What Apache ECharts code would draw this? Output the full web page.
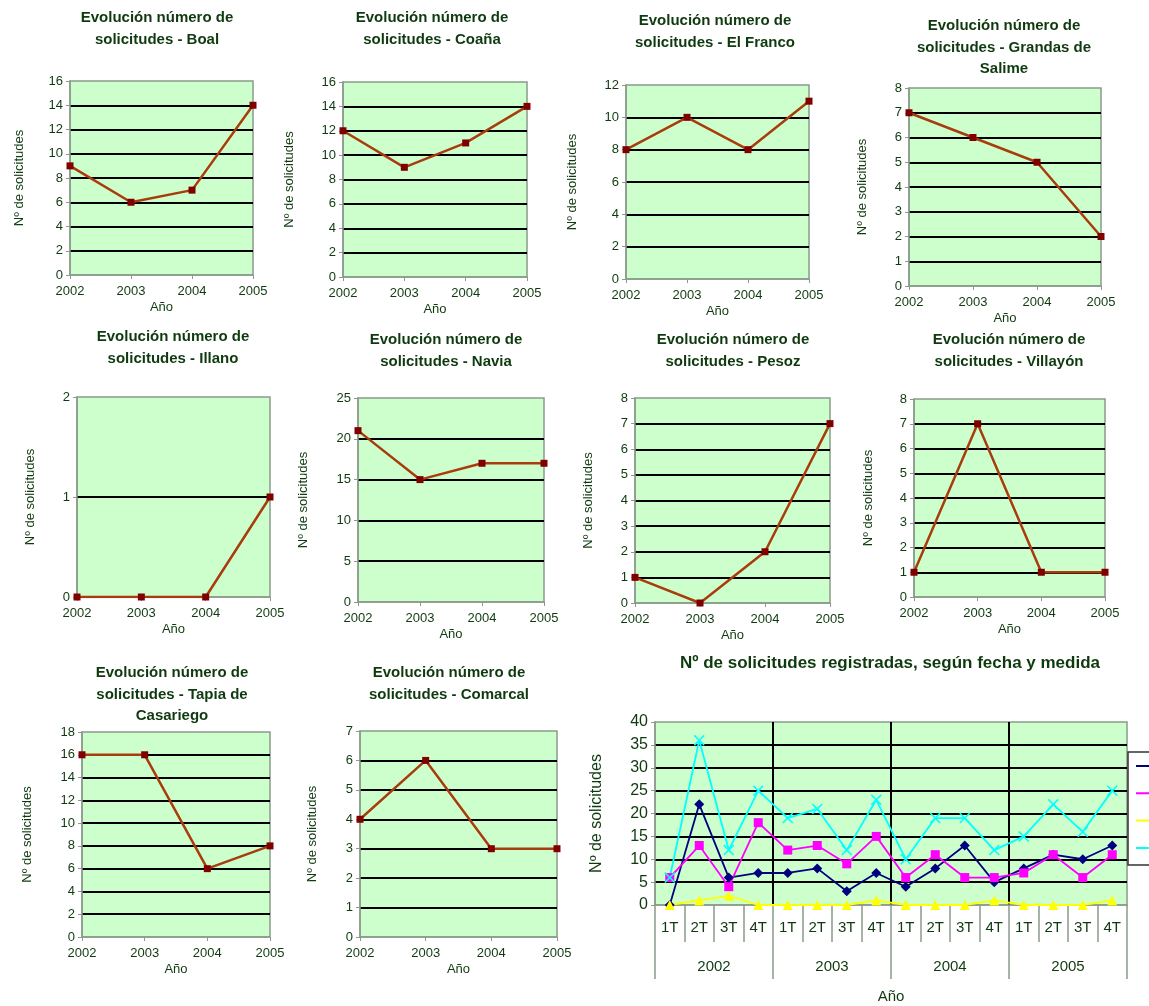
<!DOCTYPE html>
<html><head><meta charset="utf-8">
<script src="https://cdn.jsdelivr.net/npm/echarts@6/dist/echarts.min.js"></script>
<style>html,body{margin:0;padding:0;background:#fff}#c{width:1149px;height:1006px}</style>
</head><body><div id="c"></div>
<script>
// ---- data ----
const years = ['2002', '2003', '2004', '2005'];
const boal = [9, 6, 7, 14];
const coana = [12, 9, 11, 14];
const elFranco = [8, 10, 8, 11];
const grandasSalime = [7, 6, 5, 2];
const illano = [0, 0, 0, 1];
const navia = [21, 15, 17, 17];
const pesoz = [1, 0, 2, 7];
const villayon = [1, 7, 1, 1];
const tapiaCasariego = [16, 16, 6, 8];
const comarcal = [4, 6, 3, 3];

const quarters = ['1T','2T','3T','4T','1T','2T','3T','4T','1T','2T','3T','4T','1T','2T','3T','4T'];
const medidaA = [0, 22, 6, 7, 7, 8, 3, 7, 4, 8, 13, 5, 8, 11, 10, 13];
const medidaB = [6, 13, 4, 18, 12, 13, 9, 15, 6, 11, 6, 6, 7, 11, 6, 11];
const medidaC = [0, 1, 2, 0, 0, 0, 0, 1, 0, 0, 0, 1, 0, 0, 0, 1];
const medidaD = [6, 36, 12, 25, 19, 21, 12, 23, 10, 19, 19, 12, 15, 22, 16, 25];

// ---- layout / style ----
const TXT = '#0f3a0f';
const FONT = '"Liberation Sans", Arial, sans-serif';
const AX = '#8c9a8c';
const small = [
  {title: 'Evolución número de\nsolicitudes - Boal', data: boal, max: 16, step: 2, box: [70, 81, 183, 194], t: [157, 18], gap: 44},
  {title: 'Evolución número de\nsolicitudes - Coaña', data: coana, max: 16, step: 2, box: [343, 82, 184, 195], t: [432, 18], gap: 47},
  {title: 'Evolución número de\nsolicitudes - El Franco', data: elFranco, max: 12, step: 2, box: [626, 85, 183, 194], t: [715, 21], gap: 47},
  {title: 'Evolución número de\nsolicitudes - Grandas de\nSalime', data: grandasSalime, max: 8, step: 1, box: [909, 88, 192, 198], t: [1004, 26], gap: 40},
  {title: 'Evolución número de\nsolicitudes - Illano', data: illano, max: 2, step: 1, box: [77, 397, 193, 200], t: [173, 337], gap: 40},
  {title: 'Evolución número de\nsolicitudes - Navia', data: navia, max: 25, step: 5, box: [358, 398, 186, 204], t: [446, 340], gap: 48},
  {title: 'Evolución número de\nsolicitudes - Pesoz', data: pesoz, max: 8, step: 1, box: [635, 398, 195, 205], t: [733, 340], gap: 40},
  {title: 'Evolución número de\nsolicitudes - Villayón', data: villayon, max: 8, step: 1, box: [914, 399, 191, 198], t: [1009, 340], gap: 39},
  {title: 'Evolución número de\nsolicitudes - Tapia de\nCasariego', data: tapiaCasariego, max: 18, step: 2, box: [82, 732, 188, 205], t: [172, 673], gap: 48},
  {title: 'Evolución número de\nsolicitudes - Comarcal', data: comarcal, max: 7, step: 1, box: [360, 731, 197, 206], t: [449, 673], gap: 41}
];

const option = {
  animation: false,
  textStyle: {fontFamily: FONT},
  title: [], grid: [], xAxis: [], yAxis: [], series: []
};

small.forEach((c, i) => {
  option.title.push({
    text: c.title, left: c.t[0], top: c.t[1] - 10.5, textAlign: 'center', padding: 0,
    textStyle: {fontSize: 15, fontWeight: 'bold', color: TXT, fontFamily: FONT, lineHeight: 21.5}
  });
  option.grid.push({
    left: c.box[0], top: c.box[1], width: c.box[2], height: c.box[3],
    show: true, backgroundColor: '#ccffcc', borderColor: AX, borderWidth: 1.5
  });
  option.xAxis.push({
    gridIndex: i, type: 'category', data: years, boundaryGap: false,
    name: 'Año', nameLocation: 'middle', nameGap: 26,
    nameTextStyle: {fontSize: 13, color: TXT, fontFamily: FONT},
    axisLine: {lineStyle: {color: AX, width: 1.5}},
    axisTick: {show: true, length: 4, interval: 0, lineStyle: {color: AX}},
    axisLabel: {margin: 10, fontSize: 13, color: TXT, interval: 0, fontFamily: FONT},
    splitLine: {show: false}
  });
  option.yAxis.push({
    gridIndex: i, type: 'value', min: 0, max: c.max, interval: c.step,
    name: 'Nº de solicitudes', nameLocation: 'middle', nameGap: c.gap,
    nameTextStyle: {fontSize: 13, color: TXT, fontFamily: FONT},
    axisLine: {show: true, lineStyle: {color: AX, width: 1.5}},
    axisTick: {show: true, length: 4, lineStyle: {color: AX}},
    axisLabel: {margin: 7, fontSize: 13, color: TXT, fontFamily: FONT},
    splitLine: {show: true, showMaxLine: false, showMinLine: false, lineStyle: {color: '#000', width: 2}}
  });
  option.series.push({
    type: 'line', xAxisIndex: i, yAxisIndex: i, data: c.data,
    symbol: 'rect', symbolSize: 7,
    lineStyle: {color: '#a83c0c', width: 2.5},
    itemStyle: {color: '#800000'}
  });
});

// ---- big chart ----
const B = small.length;
option.title.push({
  text: 'Nº de solicitudes registradas, según fecha y medida', left: 890, top: 655, textAlign: 'center', padding: 0,
  textStyle: {fontSize: 17, fontWeight: 'bold', color: TXT, fontFamily: FONT}
});
option.grid.push({left: 655, top: 722, width: 472, height: 183, show: true, backgroundColor: '#ccffcc', borderColor: AX, borderWidth: 1.5});
option.xAxis.push({
  gridIndex: B, type: 'category', data: quarters, boundaryGap: true, position: 'bottom',
  axisLine: {lineStyle: {color: AX, width: 1.5}},
  axisTick: {show: true, interval: 0, length: 37, lineStyle: {color: AX, width: 1.5}},
  axisLabel: {interval: 0, margin: 15, fontSize: 15, color: TXT, fontFamily: FONT},
  splitLine: {show: false}
});
option.xAxis.push({
  gridIndex: B, type: 'category', data: years, boundaryGap: true, position: 'bottom',
  name: 'Año', nameLocation: 'middle', nameGap: 84,
  nameTextStyle: {fontSize: 15, color: TXT, fontFamily: FONT},
  axisLine: {show: false},
  axisTick: {show: true, interval: 0, length: 74, lineStyle: {color: AX, width: 1.5}},
  axisLabel: {interval: 0, margin: 54, fontSize: 15, color: TXT, fontFamily: FONT},
  splitLine: {show: true, showMinLine: false, showMaxLine: false, lineStyle: {color: '#000', width: 2}}
});
option.yAxis.push({
  gridIndex: B, type: 'value', min: 0, max: 40, interval: 5,
  name: 'Nº de solicitudes', nameLocation: 'middle', nameGap: 50,
  nameTextStyle: {fontSize: 16, color: TXT, fontFamily: FONT},
  axisLine: {show: true, lineStyle: {color: AX, width: 1.5}},
  axisTick: {show: true, length: 4, lineStyle: {color: AX}},
  axisLabel: {margin: 7, fontSize: 16, color: TXT, fontFamily: FONT},
  splitLine: {show: true, showMaxLine: false, showMinLine: false, lineStyle: {color: '#000', width: 2}}
});
const XSYM = 'path://M0,1L1,0L5,4L9,0L10,1L6,5L10,9L9,10L5,6L1,10L0,9L4,5Z';
const bigSeries = [
  {name: 'Medida A', data: medidaA, color: '#000080', symbol: 'diamond', size: 10},
  {name: 'Medida B', data: medidaB, color: '#ff00ff', symbol: 'rect', size: 9},
  {name: 'Medida C', data: medidaC, color: '#ffff00', symbol: 'triangle', size: 10},
  {name: 'Medida D', data: medidaD, color: '#00ffff', symbol: XSYM, size: 11}
];
bigSeries.forEach(s => {
  option.series.push({
    type: 'line', name: s.name, xAxisIndex: B, yAxisIndex: B, data: s.data,
    symbol: s.symbol, symbolSize: s.size, color: s.color,
    lineStyle: {color: s.color, width: 1.8}, itemStyle: {color: s.color}
  });
});
option.legend = {
  data: bigSeries.map(s => s.name), orient: 'vertical', left: 1128, top: 752,
  padding: [13, 0, 16, 8], itemGap: 25.3, itemWidth: 40, itemHeight: 2, icon: 'rect',
  selectedMode: false, borderColor: '#333', borderWidth: 1.5, backgroundColor: '#fff',
  formatter: () => '', textStyle: {fontSize: 12, lineHeight: 14}
};

const chart = echarts.init(document.getElementById('c'), null, {renderer: 'canvas'});
chart.setOption(option);
</script>
</body></html>
